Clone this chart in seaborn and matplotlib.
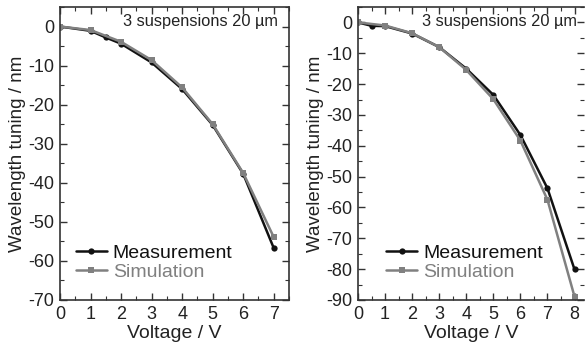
import matplotlib
matplotlib.use("Agg")
import matplotlib.pyplot as plt
from matplotlib.ticker import MultipleLocator
import seaborn as sns
import pandas as pd

# Left panel data
left_meas_v = [0, 1, 1.5, 2, 3, 4, 5, 6, 7]
left_meas_t = [0, -1.1, -2.8, -4.4, -9.2, -16.0, -25.2, -37.7, -56.7]
left_sim_v = [0, 1, 2, 3, 4, 5, 6, 7]
left_sim_t = [0, -0.9, -3.9, -8.6, -15.6, -25.0, -37.5, -53.9]

# Right panel data
right_meas_v = [0, 0.5, 1, 2, 3, 4, 5, 6, 7, 8]
right_meas_t = [0, -1.1, -1.2, -3.6, -8.0, -15.0, -23.5, -36.5, -53.8, -80.1]
right_sim_v = [0, 1, 2, 3, 4, 5, 6, 7, 8]
right_sim_t = [0, -1.0, -3.5, -8.0, -15.4, -24.9, -38.3, -57.5, -88.9]

annotation = "3 suspensions 20 µm"
series_names = ["Measurement", "Simulation"]

sns.set_style("ticks")
plt.rcParams["font.family"] = ["Liberation Sans", "DejaVu Sans"]
plt.rcParams["axes.unicode_minus"] = False

fig = plt.figure(figsize=(5.85, 3.48), dpi=100)
W, H = 585, 348
axL = fig.add_axes([60 / W, 1 - 300 / H, (289 - 60) / W, (300 - 7) / H])
axR = fig.add_axes([358 / W, 1 - 300 / H, (584 - 358) / W, (300 - 7) / H])

colors = {"Measurement": "#111111", "Simulation": "#808080"}
markers = {"Measurement": "o", "Simulation": "s"}


def draw(ax, mv, mt, sv, st, xlim, ylim, ann_gap, leg_x):
    df = pd.concat([
        pd.DataFrame({"V": mv, "T": mt, "series": series_names[0]}),
        pd.DataFrame({"V": sv, "T": st, "series": series_names[1]}),
    ])
    sns.lineplot(data=df, x="V", y="T", hue="series", style="series",
                 palette=colors, markers=markers, dashes=False,
                 linewidth=1.8, markersize=4.5, markeredgewidth=0,
                 sort=False, ax=ax)
    ax.set_xlim(*xlim)
    ax.set_ylim(*ylim)
    ax.xaxis.set_major_locator(MultipleLocator(1))
    ax.xaxis.set_minor_locator(MultipleLocator(0.5))
    ax.yaxis.set_major_locator(MultipleLocator(10))
    ax.yaxis.set_minor_locator(MultipleLocator(5))
    ax.tick_params(which="both", direction="in", top=True, right=True,
                   colors="#333333", labelcolor="#222222")
    ax.tick_params(which="major", length=5, width=1, labelsize=13, pad=4)
    ax.tick_params(which="minor", length=3, width=0.8)
    for s in ax.spines.values():
        s.set_color("#333333")
        s.set_linewidth(1.2)
    ax.set_xlabel("Voltage / V", fontsize=14, color="#222222", labelpad=2)
    ax.set_ylabel("Wavelength tuning / nm", fontsize=13.5, color="#222222", labelpad=2)
    ax.annotate(annotation, xy=(1, 1), xycoords="axes fraction",
                xytext=(-ann_gap, -7), textcoords="offset pixels",
                ha="right", va="top", fontsize=11.8, color="#222222")
    leg = ax.legend(loc="lower left", bbox_to_anchor=(leg_x, 0.04), frameon=False,
                    fontsize=14, handlelength=1.6, handletextpad=0.3,
                    borderaxespad=0, labelspacing=0.05)
    for txt, name in zip(leg.get_texts(), series_names):
        txt.set_color(colors[name])


draw(axL, left_meas_v, left_meas_t, left_sim_v, left_sim_t, (0, 7.5), (-70, 5), 11, 0.035)
draw(axR, right_meas_v, right_meas_t, right_sim_v, right_sim_t, (0, 8.35), (-90, 5), 7, 0.09)
axR.spines["right"].set_visible(False)

fig.savefig("out.png", dpi=100)
